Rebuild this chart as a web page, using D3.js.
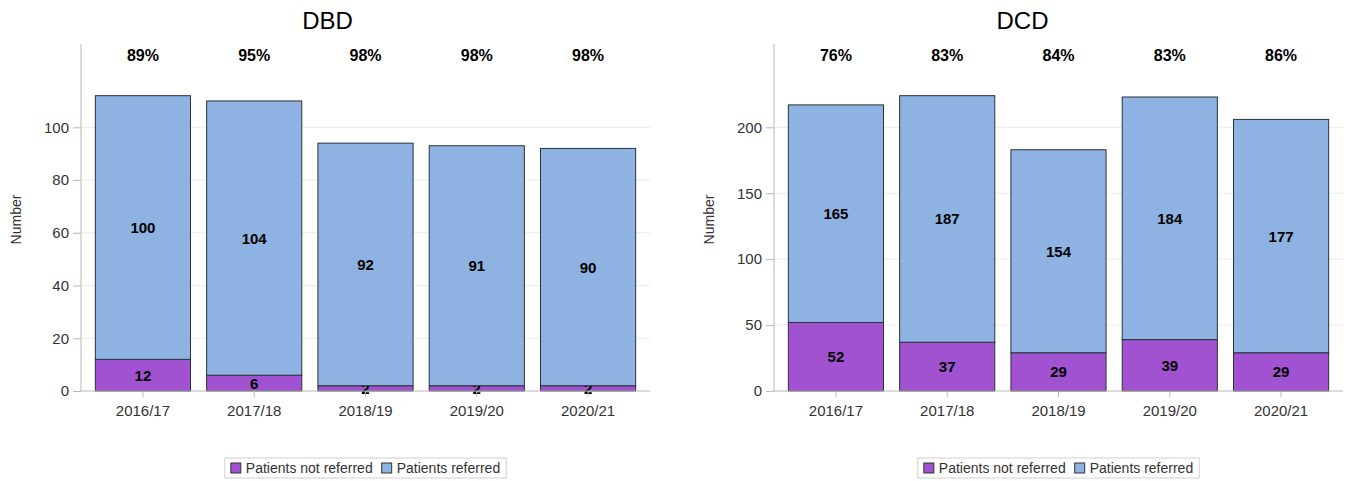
<!DOCTYPE html>
<html>
<head>
<meta charset="utf-8">
<script src="https://cdn.jsdelivr.net/npm/d3@7"></script>
<style>
  html, body { margin: 0; padding: 0; background: #fff; }
  svg { display: block; font-family: "Liberation Sans", Arial, sans-serif; }
</style>
</head>
<body>
<svg id="chart" width="1354" height="481"></svg>
<script>
// Referral of potential donors, by financial year
const years = ["2016/17", "2017/18", "2018/19", "2019/20", "2020/21"];

const dbdNotReferred = [12, 6, 2, 2, 2];
const dbdReferred = [100, 104, 92, 91, 90];
const dbdPercent = ["89%", "95%", "98%", "98%", "98%"];
const dbdTicks = [0, 20, 40, 60, 80, 100];

const dcdNotReferred = [52, 37, 29, 39, 29];
const dcdReferred = [165, 187, 154, 184, 177];
const dcdPercent = ["76%", "83%", "84%", "83%", "86%"];
const dcdTicks = [0, 50, 100, 150, 200];

const seriesNames = ["Patients not referred", "Patients referred"];
const seriesColors = ["#a052d0", "#8eb3e2"];

const svg = d3.select("#chart");
const FONT = "Liberation Sans, Arial, sans-serif";

function drawPanel(opts) {
  const { title, titleX, left, right, notRef, ref, pct, ticks } = opts;
  const top = 44, bottom = 391;
  const g = svg.append("g");

  const totals = notRef.map((d, i) => d + ref[i]);
  const y = d3.scaleLinear()
    .domain([0, d3.max(totals) * 1.175])
    .range([bottom, top]);
  const x = d3.scaleBand()
    .domain(years)
    .range([left + 6, right - 6])
    .paddingInner(0.145)
    .paddingOuter(0.075);

  // title
  g.append("text")
    .attr("x", titleX).attr("y", 28.5)
    .attr("text-anchor", "middle")
    .attr("font-size", 24)
    .attr("fill", "#000")
    .text(title);

  // gridlines
  g.append("g").selectAll("line")
    .data(ticks.filter(t => t > 0))
    .join("line")
    .attr("x1", left).attr("x2", right)
    .attr("y1", d => y(d)).attr("y2", d => y(d))
    .attr("stroke", "#ebebeb").attr("stroke-width", 1);

  // y axis
  const yAxis = g.append("g")
    .attr("transform", `translate(${left},0)`)
    .call(d3.axisLeft(y).tickValues(ticks).tickSize(8).tickPadding(4).tickFormat(d3.format("d")));
  yAxis.select(".domain").attr("d", `M0,${top}V${bottom}`).attr("stroke", "#b8b8b8");
  yAxis.selectAll(".tick line").attr("stroke", "#b8b8b8");
  yAxis.selectAll(".tick text").attr("font-size", 15).attr("fill", "#333")
    .attr("font-family", FONT);

  // y axis label
  g.append("text")
    .attr("transform", `translate(${left - 60},${(top + bottom) / 2 + 2}) rotate(-90)`)
    .attr("text-anchor", "middle")
    .attr("font-size", 14)
    .attr("fill", "#333")
    .text("Number");

  // stacked bars
  const rows = years.map((yr, i) => ({ yr, i }));
  const stacks = [notRef, ref];
  stacks.forEach((vals, s) => {
    const base = s === 0 ? years.map(() => 0) : notRef;
    g.append("g").selectAll("rect")
      .data(rows)
      .join("rect")
      .attr("x", d => x(d.yr))
      .attr("width", x.bandwidth())
      .attr("y", d => y(base[d.i] + vals[d.i]))
      .attr("height", d => y(base[d.i]) - y(base[d.i] + vals[d.i]))
      .attr("fill", seriesColors[s])
      .attr("stroke", "#2b3138")
      .attr("stroke-width", 1);

    g.append("g").selectAll("text")
      .data(rows)
      .join("text")
      .attr("x", d => x(d.yr) + x.bandwidth() / 2)
      .attr("y", d => y(base[d.i] + vals[d.i] / 2) + 5.5)
      .attr("text-anchor", "middle")
      .attr("font-size", 15)
      .attr("font-weight", "bold")
      .attr("fill", "#000")
      .text(d => vals[d.i]);
  });

  // x axis
  const xAxis = g.append("g")
    .attr("transform", `translate(0,${bottom})`)
    .call(d3.axisBottom(x).tickSize(6).tickPadding(8));
  xAxis.select(".domain").attr("d", `M${left},0H${right}`).attr("stroke", "#b8b8b8");
  xAxis.selectAll(".tick line").attr("stroke", "#b8b8b8");
  xAxis.selectAll(".tick text").attr("font-size", 15).attr("fill", "#333")
    .attr("font-family", FONT);

  // percentage referred, above each bar
  g.append("g").selectAll("text")
    .data(rows)
    .join("text")
    .attr("x", d => x(d.yr) + x.bandwidth() / 2)
    .attr("y", 61)
    .attr("text-anchor", "middle")
    .attr("font-size", 16)
    .attr("font-weight", "bold")
    .attr("fill", "#000")
    .text(d => pct[d.i]);

  // legend
  const cx = (left + right) / 2;
  const lg = g.append("g");
  const box = lg.append("rect")
    .attr("y", 458).attr("height", 20)
    .attr("fill", "#fff").attr("stroke", "#d0d0d0");
  let xpos = 0;
  const items = lg.append("g");
  seriesNames.forEach((name, s) => {
    items.append("rect")
      .attr("x", xpos).attr("y", 463).attr("width", 10).attr("height", 10)
      .attr("fill", seriesColors[s]).attr("stroke", "#333");
    const t = items.append("text")
      .attr("x", xpos + 15).attr("y", 473)
      .attr("font-size", 14).attr("fill", "#333")
      .text(name);
    xpos += 15 + t.node().getComputedTextLength() + 9;
  });
  const w = xpos - 9;
  items.attr("transform", `translate(${cx - w / 2},0)`);
  box.attr("x", cx - w / 2 - 6).attr("width", w + 12);
}

drawPanel({ title: "DBD", titleX: 327.5, left: 81, right: 650,
  notRef: dbdNotReferred, ref: dbdReferred, pct: dbdPercent, ticks: dbdTicks });
drawPanel({ title: "DCD", titleX: 1022.5, left: 774, right: 1343,
  notRef: dcdNotReferred, ref: dcdReferred, pct: dcdPercent, ticks: dcdTicks });
</script>
</body>
</html>
